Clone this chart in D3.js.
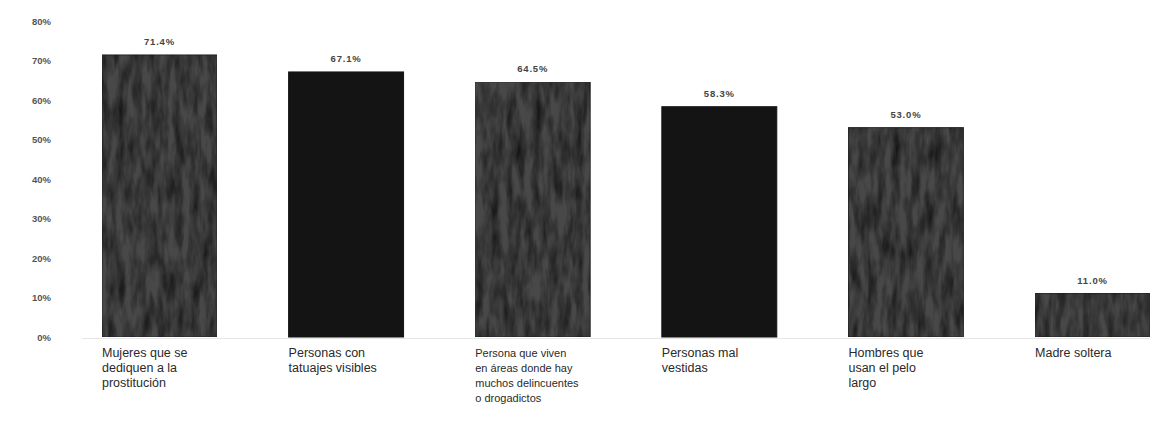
<!DOCTYPE html>
<html>
<head>
<meta charset="utf-8">
<script src="https://cdn.jsdelivr.net/npm/d3@7"></script>
<style>
  html, body { margin: 0; padding: 0; background: #fff; }
  svg { display: block; }
</style>
</head>
<body>
<svg id="chart" width="1153" height="431"></svg>
<script>
const categories = [
  ["Mujeres que se", "dediquen a la", "prostitución"],
  ["Personas con", "tatuajes visibles"],
  ["Persona que viven", "en áreas donde hay", "muchos delincuentes", "o drogadictos"],
  ["Personas mal", "vestidas"],
  ["Hombres que", "usan el pelo", "largo"],
  ["Madre soltera"]
];
const values = [71.4, 67.1, 64.5, 58.3, 53.0, 11.0];
const valueLabels = ["71.4%", "67.1%", "64.5%", "58.3%", "53.0%", "11.0%"];
const barStyle = ["grain", "solid", "grain", "solid", "grain", "grain"];
const yTicks = [0, 10, 20, 30, 40, 50, 60, 70, 80];

const svg = d3.select("#chart");

// grain texture filter
const defs = svg.append("defs");
const f = defs.append("filter").attr("id", "grain")
  .attr("x", 0).attr("y", 0).attr("width", 1).attr("height", 1)
  .attr("color-interpolation-filters", "sRGB");
f.append("feTurbulence").attr("type", "fractalNoise").attr("baseFrequency", "0.12 0.03").attr("numOctaves", 3).attr("seed", 4).attr("result", "noise");
f.append("feColorMatrix").attr("in", "noise").attr("type", "matrix")
  .attr("values", "0 0 0 0 0.08  0 0 0 0 0.08  0 0 0 0 0.08  0 0 0 -1.6 1.1").attr("result", "tint");
f.append("feComposite").attr("in", "tint").attr("in2", "SourceGraphic").attr("operator", "atop");

const x = d3.scaleBand()
  .domain(d3.range(categories.length))
  .range([102, 1150])
  .paddingInner(0.384)
  .paddingOuter(0);

const y = d3.scaleLinear().domain([0, 80]).range([337, 21]);

// y axis labels
const yAxis = d3.axisLeft(y).tickValues(yTicks).tickFormat(d => d + "%").tickSize(0).tickPadding(0);
const yg = svg.append("g").attr("transform", "translate(51,0)").call(yAxis);
yg.select(".domain").remove();
yg.selectAll("text")
  .attr("font-family", "Liberation Sans, Arial, sans-serif")
  .attr("font-size", 9.5)
  .attr("font-weight", "bold")
  .attr("fill", "#555");

// faint baseline
svg.append("line")
  .attr("x1", x.range()[0] - 20).attr("x2", x.range()[1])
  .attr("y1", y(0) + 1.5).attr("y2", y(0) + 1.5)
  .attr("stroke", "#e6e6e6").attr("stroke-width", 1);

// bars
svg.selectAll("rect.bar")
  .data(values)
  .join("rect")
  .attr("class", "bar")
  .attr("x", (d, i) => x(i))
  .attr("width", x.bandwidth())
  .attr("y", d => y(d))
  .attr("height", d => y(0) - y(d))
  .attr("fill", (d, i) => barStyle[i] === "solid" ? "#141414" : "#484848")
  .attr("stroke", (d, i) => barStyle[i] === "solid" ? "#141414" : "#2a2a2a")
  .attr("stroke-width", 1)
  .attr("filter", (d, i) => barStyle[i] === "solid" ? null : "url(#grain)");

// value labels
svg.selectAll("text.val")
  .data(values)
  .join("text")
  .attr("class", "val")
  .attr("x", (d, i) => x(i) + x.bandwidth() / 2)
  .attr("y", d => y(d) - 10)
  .attr("text-anchor", "middle")
  .attr("font-family", "Liberation Sans, Arial, sans-serif")
  .attr("font-size", 9.5)
  .attr("font-weight", "bold")
  .attr("letter-spacing", 0.8)
  .attr("fill", "#444")
  .text((d, i) => valueLabels[i]);

// category labels
const cg = svg.selectAll("text.cat")
  .data(categories)
  .join("text")
  .attr("class", "cat")
  .attr("x", (d, i) => x(i))
  .attr("y", y(0) + 20)
  .attr("font-family", "Liberation Sans, Arial, sans-serif")
  .attr("font-size", (d, i) => i === 2 ? 11 : 12.5)
  .attr("fill", "#2a2a2a");
cg.selectAll("tspan")
  .data((d, i) => d.map(s => ({ s, i })))
  .join("tspan")
  .attr("x", function(d) { return x(d.i); })
  .attr("dy", (d, j) => j === 0 ? 0 : 15)
  .text(d => d.s);
</script>
</body>
</html>
